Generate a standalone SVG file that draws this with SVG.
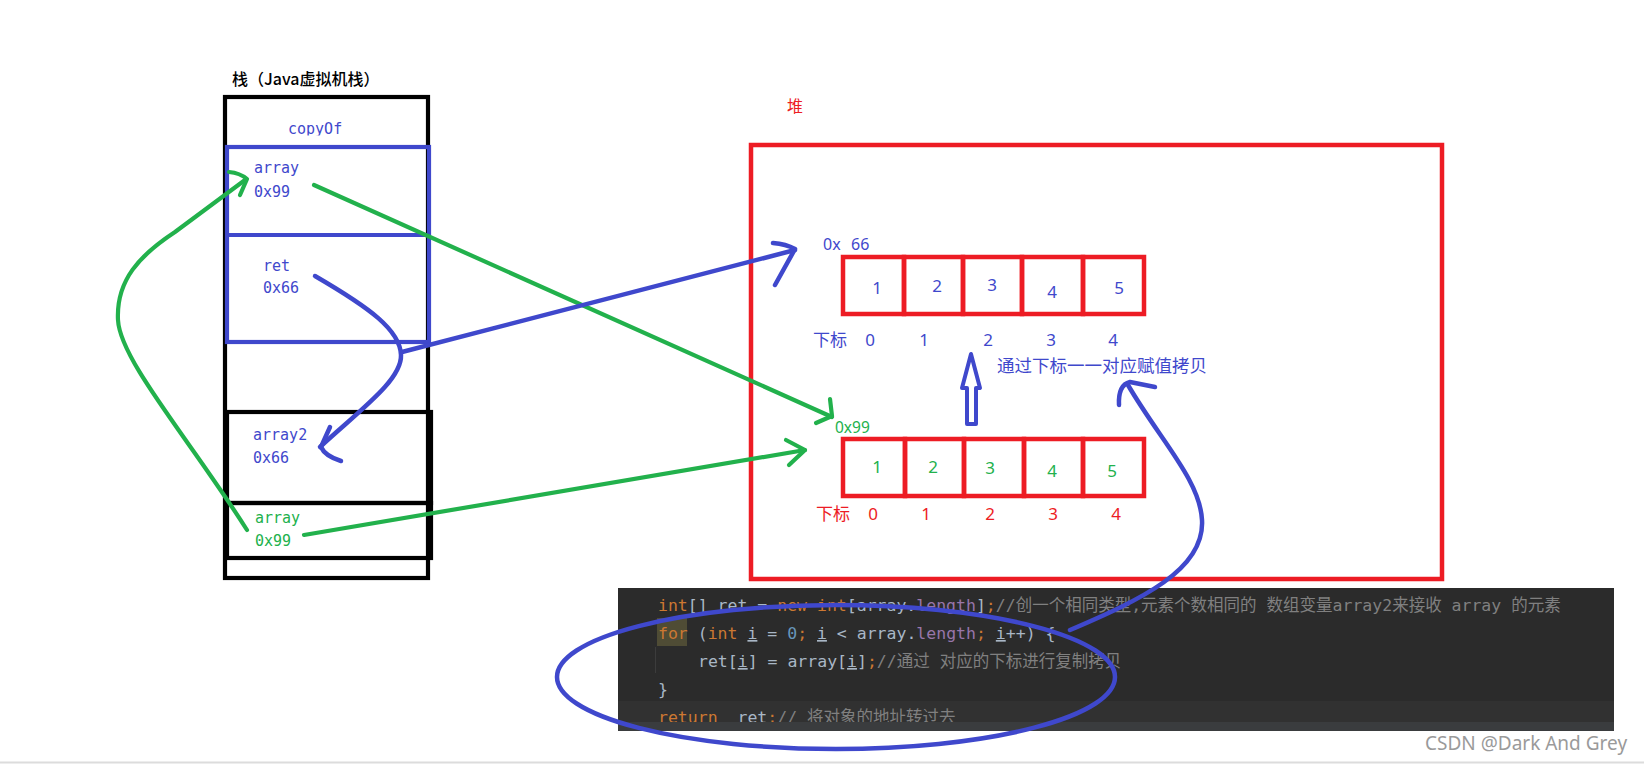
<svg xmlns="http://www.w3.org/2000/svg" width="1644" height="764" viewBox="0 0 1644 764">
<defs>
<style>
.bk{fill:none;stroke:#000;stroke-width:4.2}
.bl{fill:none;stroke:#3f48cc;stroke-width:4.2}
.rd{fill:none;stroke:#ed1c24;stroke-width:4.5}
.cb{fill:none;stroke:#3f48cc;stroke-width:4.5;stroke-linecap:round;stroke-linejoin:round}
.cg{fill:none;stroke:#22b14c;stroke-width:4.2;stroke-linecap:round;stroke-linejoin:round}
.mono{font-family:"DejaVu Sans Mono","Liberation Mono",monospace;font-size:15px}
.cjk{font-family:"Noto Sans CJK SC","Noto Sans",sans-serif}
.num{font-family:"Noto Sans","Liberation Sans",sans-serif;font-size:17px;text-anchor:middle}
.tb{fill:#3f48cc}
.tg{fill:#22b14c}
.tr{fill:#ed1c24}
.code{font-family:"DejaVu Sans Mono","Noto Sans CJK SC",monospace;font-size:16.5px;white-space:pre}
.kw{fill:#cc7832}
.tx{fill:#a9b7c6}
.nm{fill:#6897bb}
.fd{fill:#9876aa}
.cm{fill:#808080}
.u{text-decoration:underline}
</style>
<clipPath id="clipCopy"><rect x="220" y="110" width="200" height="25.5"/></clipPath>
</defs>
<rect width="1644" height="764" fill="#fff"/>

<g id="stack">
<text x="232" y="85" class="cjk" font-size="16" font-weight="500" fill="#000">栈（Java虚拟机栈）</text>
<rect class="bk" x="225" y="97" width="203" height="481"/>
</g>

<g id="frame-copyOf">
<text x="288" y="134" class="mono tb" clip-path="url(#clipCopy)">copyOf</text>
<rect class="bl" x="227" y="147" width="202" height="195"/>
<line class="bl" x1="227" y1="235" x2="429" y2="235"/>
</g>

<g id="var-array-param">
<text x="254" y="173" class="mono tb">array</text>
<text x="254" y="197" class="mono tb">0x99</text>
</g>

<g id="var-ret">
<text x="263" y="271" class="mono tb">ret</text>
<text x="263" y="293" class="mono tb">0x66</text>
</g>

<g id="var-array2">
<rect class="bk" x="227" y="412" width="204" height="91"/>
<text x="253" y="440" class="mono tb">array2</text>
<text x="253" y="463" class="mono tb">0x66</text>
</g>

<g id="var-array-main">
<rect class="bk" x="227" y="503" width="204" height="55"/>
<text x="255" y="523" class="mono tg">array</text>
<text x="255" y="546" class="mono tg">0x99</text>
</g>

<g id="heap">
<text x="787" y="112" class="cjk tr" font-size="16">堆</text>
<rect class="rd" x="751" y="145" width="691" height="434"/>
</g>

<g id="heap-array-0x66">
<text x="823" y="250" class="tb" font-family="Noto Sans, Liberation Sans, sans-serif" font-size="16">0x<tspan x="851">66</tspan></text>
<rect class="rd" x="843" y="257" width="61" height="57"/>
<rect class="rd" x="904" y="257" width="59" height="57"/>
<rect class="rd" x="963" y="257" width="59" height="57"/>
<rect class="rd" x="1022" y="257" width="61" height="57"/>
<rect class="rd" x="1083" y="257" width="61" height="57"/>
<text class="num tb" x="877" y="294">1</text>
<text class="num tb" x="937" y="292">2</text>
<text class="num tb" x="992" y="291">3</text>
<text class="num tb" x="1052" y="298">4</text>
<text class="num tb" x="1119" y="294">5</text>
<text x="813" y="346" class="cjk tb" font-size="17">下标</text>
<text class="num tb" x="870" y="346">0</text>
<text class="num tb" x="924" y="346">1</text>
<text class="num tb" x="988" y="346">2</text>
<text class="num tb" x="1051" y="346">3</text>
<text class="num tb" x="1113" y="346">4</text>
</g>

<g id="heap-array-0x99">
<text x="835" y="433" class="tg" font-family="Noto Sans, Liberation Sans, sans-serif" font-size="15.5">0x99</text>
<rect class="rd" x="843" y="439" width="62" height="57"/>
<rect class="rd" x="905" y="439" width="59" height="57"/>
<rect class="rd" x="964" y="439" width="60" height="57"/>
<rect class="rd" x="1024" y="439" width="59" height="57"/>
<rect class="rd" x="1083" y="439" width="61" height="57"/>
<text class="num tg" x="877" y="473">1</text>
<text class="num tg" x="933" y="473">2</text>
<text class="num tg" x="990" y="474">3</text>
<text class="num tg" x="1052" y="477">4</text>
<text class="num tg" x="1112" y="477">5</text>
<text x="816" y="520" class="cjk tr" font-size="17">下标</text>
<text class="num tr" x="873" y="520">0</text>
<text class="num tr" x="926" y="520">1</text>
<text class="num tr" x="990" y="520">2</text>
<text class="num tr" x="1053" y="520">3</text>
<text class="num tr" x="1116" y="520">4</text>
</g>

<g id="note-copy">
<text x="997" y="372" class="cjk tb" font-size="17.5">通过下标一一对应赋值拷贝</text>
</g>

<g id="code">
<rect x="618" y="588" width="996" height="143" fill="#2b2b2b"/>
<rect x="618" y="701" width="996" height="21" fill="#313131"/>
<rect x="657" y="618" width="30" height="28" fill="#4f4c35"/>
<line x1="655.5" y1="647" x2="655.5" y2="673" stroke="#3c3c3c" stroke-width="1"/>
<text class="code" x="658" y="611" xml:space="preserve"><tspan class="kw">int</tspan><tspan class="tx">[] ret = </tspan><tspan class="kw">new int</tspan><tspan class="tx">[array.</tspan><tspan class="fd">length</tspan><tspan class="tx">]</tspan><tspan class="kw">;</tspan><tspan class="cm">//创一个相同类型,元素个数相同的 数组变量array2来接收 array 的元素</tspan></text>
<text class="code" x="658" y="639" xml:space="preserve"><tspan class="kw">for</tspan><tspan class="tx"> (</tspan><tspan class="kw">int</tspan><tspan class="tx"> </tspan><tspan class="tx u">i</tspan><tspan class="tx"> = </tspan><tspan class="nm">0</tspan><tspan class="kw">;</tspan><tspan class="tx"> </tspan><tspan class="tx u">i</tspan><tspan class="tx"> &lt; array.</tspan><tspan class="fd">length</tspan><tspan class="kw">;</tspan><tspan class="tx"> </tspan><tspan class="tx u">i</tspan><tspan class="tx">++) {</tspan></text>
<text class="code" x="698" y="667" xml:space="preserve"><tspan class="tx">ret[</tspan><tspan class="tx u">i</tspan><tspan class="tx">] = array[</tspan><tspan class="tx u">i</tspan><tspan class="tx">]</tspan><tspan class="kw">;</tspan><tspan class="cm">//通过 对应的下标进行复制拷贝</tspan></text>
<text class="code" x="658" y="695"><tspan class="tx">}</tspan></text>
<text class="code" x="658" y="723" xml:space="preserve"><tspan class="kw">return</tspan><tspan class="tx">  ret</tspan><tspan class="kw">;</tspan><tspan class="cm">// 将对象的地址转过去</tspan></text>
<rect x="618" y="722" width="996" height="9" fill="#3a3c3e"/>
</g>

<g id="connectors">
<path class="cg" d="M314,185 L832,417"/>
<path class="cg" d="M830,399 L832,416 L816,423"/>
<path class="cb" d="M402,352 L795,250"/>
<path class="cb" d="M773,243 Q786,244 795,249 L775,285"/>
<path class="cb" d="M315,276 C370,308 400,330 401,355 C402,380 360,410 320,447"/>
<path class="cb" d="M330,427 L321,447 Q325,456 341,461"/>
<path class="cg" d="M247,530 C190,440 120,360 118,320 C116,280 140,255 175,232 L245,180"/>
<path class="cg" d="M229,172 Q240,173 247,179 L240,195"/>
<path class="cg" d="M304,535 L805,450"/>
<path class="cg" d="M786,440 L805,450 L789,465"/>
<path class="cb" d="M1070,630 C1140,600 1205,570 1202,520 C1200,480 1160,440 1128,385"/>
<path class="cb" d="M1119,405 Q1118,385 1130,382 L1155,387"/>
<polygon points="971,354 980,388 976,388 976,424 967,424 967,388 962,388" fill="#fff" stroke="#3f48cc" stroke-width="4" stroke-linejoin="round"/>
<ellipse class="cb" cx="836" cy="677" rx="279" ry="72"/>
</g>

<g id="watermark">
<line x1="0" y1="762.5" x2="1644" y2="762.5" stroke="#dcdcdc" stroke-width="2"/>
<text x="1425" y="750" font-family="Noto Sans, Open Sans, sans-serif" font-size="19" fill="#9a9a9a">CSDN @Dark And Grey</text>
</g>
</svg>
